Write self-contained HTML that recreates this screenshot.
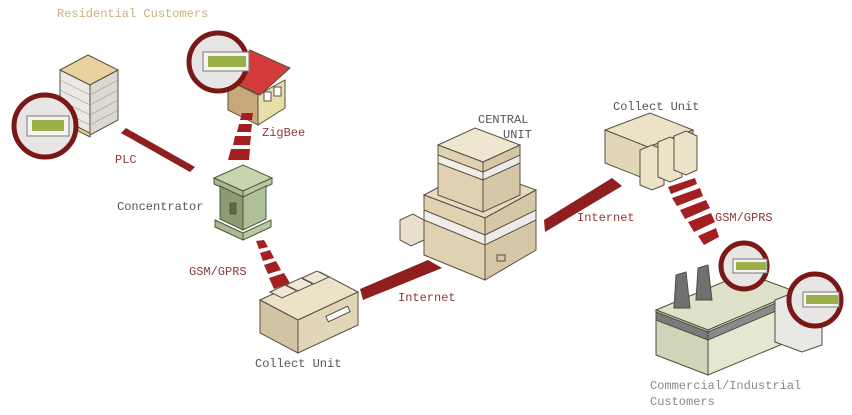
<!DOCTYPE html>
<html><head><meta charset="utf-8"><style>
html,body{margin:0;padding:0;background:#fff;}
svg{display:block}
text{font-family:"Liberation Mono",monospace;font-size:12px;}
</style></head><body>
<svg width="852" height="415" viewBox="0 0 852 415" xmlns="http://www.w3.org/2000/svg">
<g stroke="#5a5040" stroke-width="1">
<!-- left apartment building -->
<polygon points="60,70 88,55 118,70 90,85" fill="#e8d3a0"/>
<polygon points="60,70 90,85 90,135 60,120" fill="#ece9e4"/>
<polygon points="90,85 118,70 118,120 90,135" fill="#dcd8d2"/>
<polygon points="60,118 90,133 90,137 60,122" fill="#e0c98f"/>
<g stroke="#9a9690" stroke-width="0.6">
<line x1="60" y1="80" x2="90" y2="95"/><line x1="60" y1="90" x2="90" y2="105"/><line x1="60" y1="100" x2="90" y2="115"/><line x1="60" y1="110" x2="90" y2="125"/>
<line x1="90" y1="95" x2="118" y2="80"/><line x1="90" y1="105" x2="118" y2="90"/><line x1="90" y1="115" x2="118" y2="100"/><line x1="90" y1="125" x2="118" y2="110"/>
</g>
</g>
<circle cx="45" cy="126" r="31" fill="#e8e6e4" stroke="#7a1818" stroke-width="5"/>
<rect x="27" y="116" width="42" height="20" fill="#f4f4f2" stroke="#777"/>
<rect x="32" y="120" width="32" height="11" fill="#9bb04a"/>
<!-- house -->
<g stroke="#5a5040">
<polygon points="228,80 258,95 258,125 228,110" fill="#c8a878"/>
<polygon points="258,95 285,80 285,108 258,125" fill="#e6e0a8"/>
<polygon points="225,78 250,50 290,68 260,95" fill="#d43c3c"/>
<rect x="264" y="92" width="7" height="9" fill="#fff"/><rect x="274" y="87" width="7" height="9" fill="#fff"/>
</g>
<circle cx="218" cy="62" r="29" fill="#e8e6e4" stroke="#7a1818" stroke-width="5"/>
<rect x="203" y="52" width="46" height="19" fill="#f4f4f2" stroke="#777"/>
<rect x="208" y="56" width="38" height="11" fill="#9bb04a"/>
<!-- PLC -->
<polygon points="121,133 126,128 195,167 190,172" fill="#8f1e1e"/>
<!-- ZigBee fan -->
<g fill="#a32020">
<polygon points="242,113 253,113 252,120 240,120"/>
<polygon points="239,124 252,124 251,132 237,132"/>
<polygon points="235,136 251,136 250,145 233,145"/>
<polygon points="231,149 250,149 249,160 228,160"/>
</g>
<!-- Concentrator -->
<g stroke="#4a5a3a">
<polygon points="214,178 243,165 272,178 243,191" fill="#c8d4b0"/>
<polygon points="214,178 243,191 243,197 214,184" fill="#a8b890"/>
<polygon points="243,191 272,178 272,184 243,197" fill="#b8c8a0"/>
<polygon points="220,186 243,197 243,230 220,219" fill="#8a9c70"/>
<polygon points="243,197 266,186 266,219 243,230" fill="#b0c098"/>
<polygon points="215,220 243,233 243,240 215,227" fill="#a8b890"/>
<polygon points="243,233 271,220 271,227 243,240" fill="#b8c8a0"/>
<rect x="230" y="203" width="6" height="11" fill="#5a6a48"/>
</g>
<!-- GSM fan left -->
<g fill="#a32020">
<polygon points="256,241 264,240 268,247 259,249"/>
<polygon points="260,253 270,250 274,258 263,261"/>
<polygon points="264,265 276,261 281,270 268,274"/>
<polygon points="269,278 284,273 290,283 274,289"/>
</g>
<!-- collect unit bottom -->
<g stroke="#5a5040">
<polygon points="260,300 320,272 358,292 298,320" fill="#ece2c8"/>
<polygon points="298,320 358,292 358,325 298,353" fill="#e2d6b8"/>
<polygon points="260,300 298,320 298,353 260,333" fill="#d0c4a4"/>
<polygon points="270,292 285,285 297,291 282,298" fill="#efe8d8"/>
<polygon points="286,285 301,278 313,284 298,291" fill="#efe8d8"/>
<polygon points="302,278 317,271 329,277 314,284" fill="#efe8d8"/>
<rect x="326" y="311" width="24" height="6" fill="#fff" transform="rotate(-25 338 314)"/>
</g>
<!-- internet bars -->
<polygon points="360,289 428,260 442,268 363,300" fill="#8f1e1e"/>
<polygon points="544,220 612,178 622,186 545,232" fill="#8f1e1e"/>
<!-- central unit -->
<g stroke="#5a5040">
<polygon points="424,195 475,168 536,190 485,218" fill="#e6dcc4"/>
<polygon points="424,195 485,218 485,280 424,255" fill="#e0d2b0"/>
<polygon points="485,218 536,190 536,250 485,280" fill="#d6c8a6"/>
<polygon points="424,210 485,235 485,245 424,220" fill="#f0eee8"/>
<polygon points="485,235 536,210 536,220 485,245" fill="#ececea"/>
<polygon points="438,145 475,128 520,145 483,162" fill="#eee6d0"/>
<polygon points="438,145 483,162 483,212 438,195" fill="#e0d2b0"/>
<polygon points="483,162 520,145 520,195 483,212" fill="#d6c8a6"/>
<polygon points="438,155 483,172 483,180 438,163" fill="#f0eee8"/>
<polygon points="483,172 520,155 520,163 483,180" fill="#ececea"/>
<rect x="497" y="255" width="8" height="6" fill="#d6c8a6"/>
<polygon points="400,220 413,214 424,220 424,240 411,246 400,240" fill="#e8e0cc"/>
</g>
<!-- collect unit right -->
<g stroke="#5a5040">
<polygon points="605,130 650,113 693,130 648,147" fill="#ece2c8"/>
<polygon points="605,130 648,147 648,180 605,163" fill="#e2d6b8"/>
<polygon points="648,147 693,130 693,160 648,180" fill="#d6c8a6"/>
<polygon points="640,150 652,145 664,150 664,185 652,190 640,185" fill="#ece2c8"/>
<polygon points="658,142 670,137 682,142 682,177 670,182 658,177" fill="#ece2c8"/>
<polygon points="674,136 686,131 697,136 697,170 686,175 674,170" fill="#ece2c8"/>
</g>
<!-- GSM fan right -->
<g fill="#a32020">
<polygon points="668,187 695,178 697,184 671,194"/>
<polygon points="672,198 700,188 703,196 677,206"/>
<polygon points="680,210 706,200 710,208 685,219"/>
<polygon points="688,222 711,213 715,222 694,232"/>
<polygon points="698,236 716,228 719,237 704,245"/>
</g>
<!-- factory -->
<g stroke="#4a5040">
<polygon points="656,310 745,273 797,292 708,330" fill="#dde2c8"/>
<polygon points="656,310 708,330 708,375 656,355" fill="#cfd5b8"/>
<polygon points="708,330 797,292 797,338 708,375" fill="#e3e8d0"/>
<polygon points="656,312 708,332 708,340 656,320" fill="#7a7a7a"/>
<polygon points="708,332 797,294 797,302 708,340" fill="#8a8a8a"/>
<polygon points="676,275 686,272 690,308 674,308" fill="#707070"/>
<polygon points="698,268 708,265 712,300 696,300" fill="#707070"/>
<polygon points="775,300 795,292 822,302 822,345 802,352 775,342" fill="#e8e8e6"/>
</g>
<circle cx="744" cy="266" r="23" fill="#e8e6e4" stroke="#7a1818" stroke-width="5"/>
<rect x="733" y="259" width="34" height="14" fill="#f4f4f2" stroke="#777"/><rect x="736" y="262" width="30" height="8" fill="#9bb04a"/>
<circle cx="815" cy="300" r="26" fill="#e8e6e4" stroke="#7a1818" stroke-width="5"/>
<rect x="803" y="292" width="36" height="15" fill="#f4f4f2" stroke="#777"/><rect x="806" y="295" width="32" height="9" fill="#9bb04a"/>
<!-- labels -->
<text x="57" y="17" fill="#c8b07a">Residential Customers</text>
<text x="115" y="163" fill="#8b3a3a">PLC</text>
<text x="262" y="136" fill="#8b3a3a">ZigBee</text>
<text x="117" y="210" fill="#555">Concentrator</text>
<text x="189" y="275" fill="#8b3a3a">GSM/GPRS</text>
<text x="255" y="367" fill="#555">Collect Unit</text>
<text x="398" y="301" fill="#8b3a3a">Internet</text>
<text x="478" y="123" fill="#555">CENTRAL</text>
<text x="503" y="138" fill="#555">UNIT</text>
<text x="577" y="221" fill="#8b3a3a">Internet</text>
<text x="613" y="110" fill="#555">Collect Unit</text>
<text x="715" y="221" fill="#8b3a3a">GSM/GPRS</text>
<text x="650" y="389" fill="#888">Commercial/Industrial</text>
<text x="650" y="405" fill="#888">Customers</text>
</svg>
</body></html>
